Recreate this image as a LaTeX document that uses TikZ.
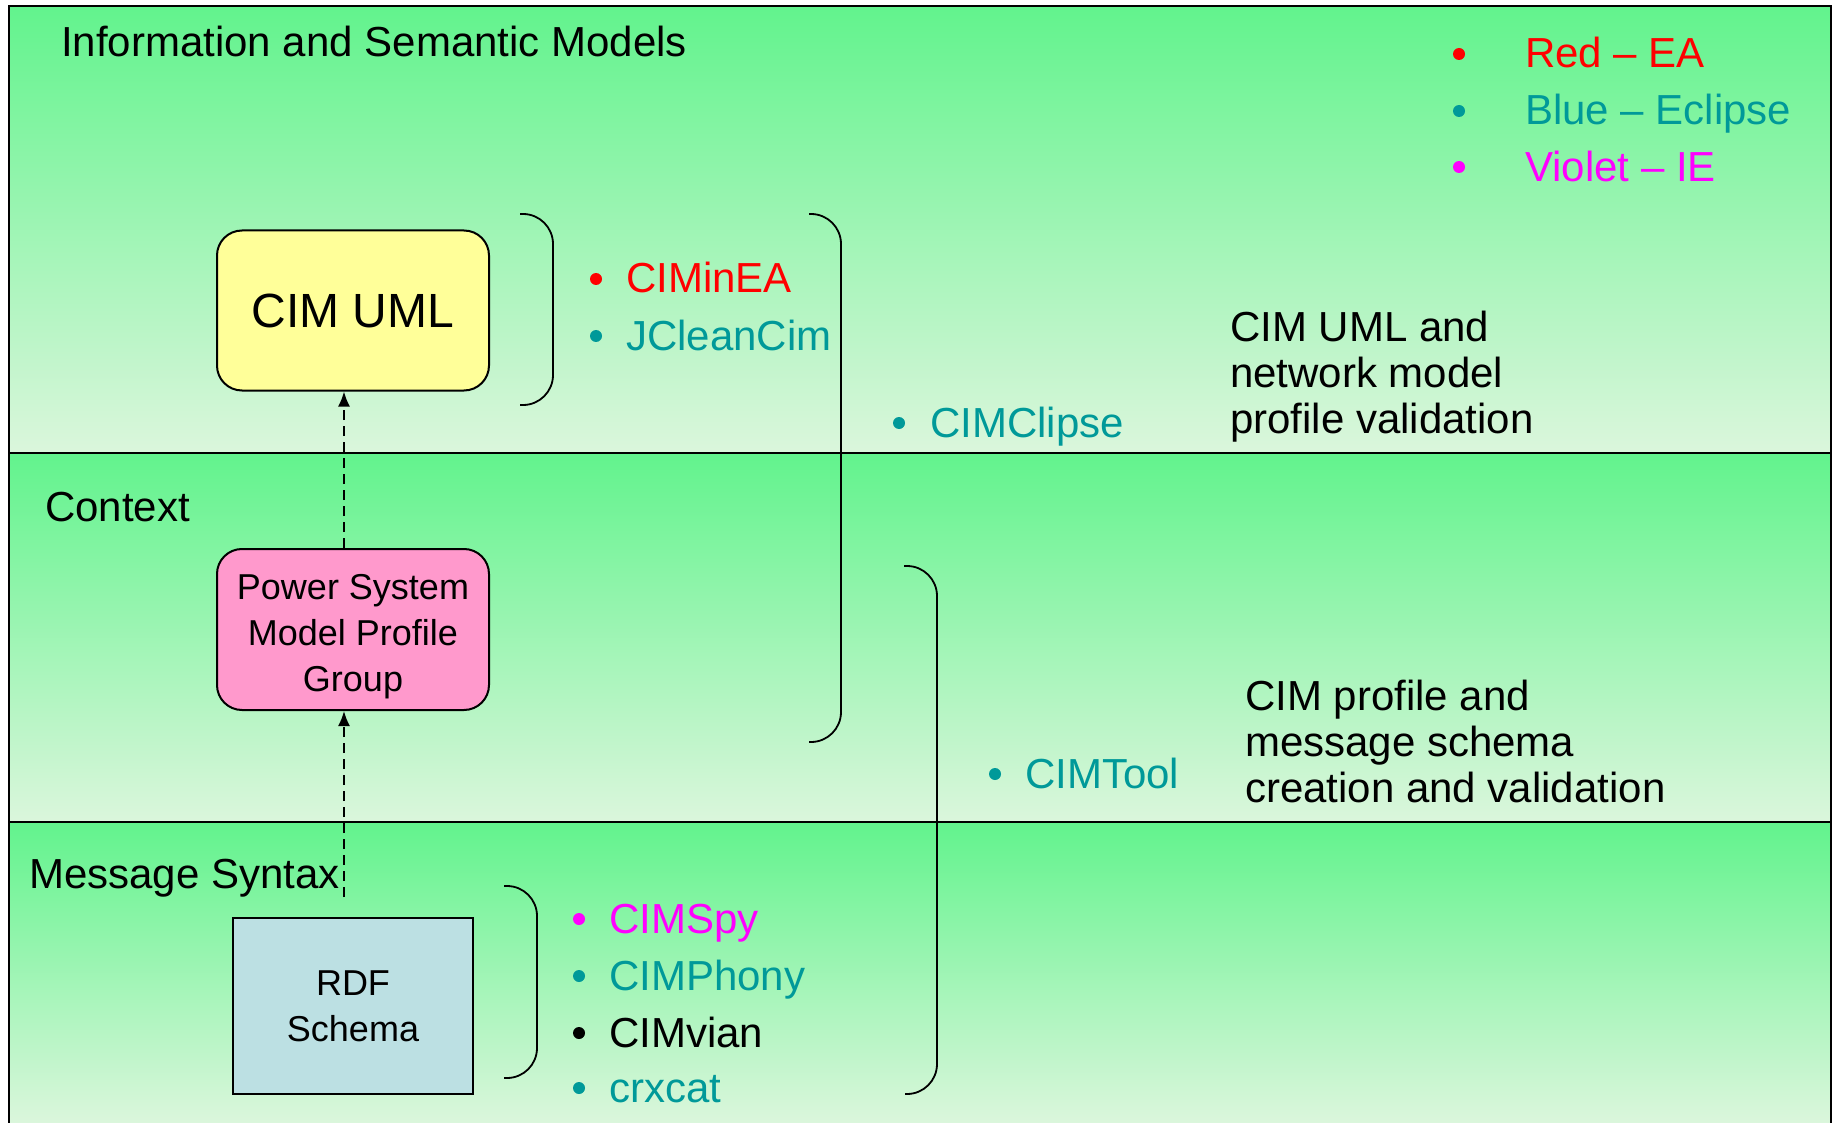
\documentclass[tikz,border=0pt]{standalone}
\usepackage{fontspec}
\setmainfont{Liberation Sans}
\usetikzlibrary{positioning,arrows.meta}
\definecolor{bandtop}{RGB}{98,243,141}
\definecolor{bandbot}{RGB}{219,246,220}
\definecolor{umlfill}{RGB}{255,255,153}
\definecolor{psmfill}{RGB}{255,153,204}
\definecolor{rdffill}{RGB}{188,224,227}
\definecolor{eclipse}{RGB}{0,153,153}
\definecolor{ie}{RGB}{255,0,255}
\begin{document}
\begin{tikzpicture}[x=1pt,y=-1pt,
    every node/.style={inner sep=0pt,font=\fontsize{42}{46}\selectfont},
    band/.style={top color=bandtop,bottom color=bandbot},
    frame/.style={line width=2.2pt},
    brace/.style={line width=1.8pt,rounded corners=30pt},
    item/.style={anchor=base west},
    note/.style={anchor=north west,align=left},
    modelbox/.style={draw,line width=2pt,minimum width=272pt,align=center,
      font=\fontsize{36}{46}\selectfont},
    dep/.style={line width=1.8pt,dash pattern=on 10pt off 6pt,
      -{Latex[length=15pt,width=12pt]}}]
  \useasboundingbox (0,0) rectangle (1837,1123);
  \shade[band] (9,6) rectangle (1831,453);
  \shade[band] (9,453) rectangle (1831,822);
  \shade[band] (9,822) rectangle (1831,1123);
  \draw[frame] (9,1123) -- (9,6) -- (1831,6) -- (1831,1123);
  \draw[frame] (9,453) -- (1831,453);
  \draw[frame] (9,822) -- (1831,822);

  \node[item] (ism) at (61,57) {Information and Semantic Models};
  \node[item] (ctx) at (45,521) {Context};
  \node[item] (msg) at (29,888) {Message Syntax};

  \node[modelbox,fill=umlfill,rounded corners=25pt,minimum height=160pt,
    font=\fontsize{48}{52}\selectfont] (uml) at (353,310.5) {CIM UML};
  \node[modelbox,fill=psmfill,rounded corners=25pt,minimum height=161pt]
    (psm) at (353,629.5) {\rule{0pt}{40pt}Power System\\Model Profile\\Group};
  \node[modelbox,fill=rdffill,minimum width=240pt,minimum height=176pt]
    (rdf) at (353,1006) {RDF\\Schema};

  \draw[dep] ([xshift=-9pt,yshift=20pt]rdf.north) -- ([xshift=-9pt]psm.south);
  \draw[dep] ([xshift=-9pt]psm.north) -- ([xshift=-9pt]uml.south);

  \draw[brace] (520,214) -- (553,214) -- (553,405) -- (520,405);
  \draw[brace] (809,214) -- (841,214) -- (841,742) -- (809,742);
  \draw[brace] (904,566) -- (937,566) -- (937,1094) -- (905,1094);
  \draw[brace] (504,886) -- (537,886) -- (537,1078) -- (504,1078);

  \fill[red] (1459,54) circle (6pt);
  \fill[eclipse] (1459,111) circle (6pt);
  \fill[ie] (1459,167) circle (6pt);
  \node[item,red] (lred) at (1525,68) {Red – EA};
  \node[item,eclipse] (lblue) at (1525,125) {Blue – Eclipse};
  \node[item,ie] (lviolet) at (1525,182) {Violet – IE};

  \fill[red] (596,279) circle (6pt);
  \fill[eclipse] (596,336) circle (6pt);
  \node[item,red] (cimin) at (626,293) {CIMinEA};
  \node[item,eclipse] (jclean) at (626,350) {JCleanCim};

  \fill[eclipse] (899,423) circle (6pt);
  \node[item,eclipse] (clipse) at (930,437) {CIMClipse};
  \node[note] (valid) at (1230,311) {CIM UML and\\network model\\profile validation};

  \fill[eclipse] (995,774) circle (6pt);
  \node[item,eclipse] (tool) at (1025,788) {CIMTool};
  \node[note] (schema) at (1245,680) {CIM profile and\\message schema\\creation and validation};

  \fill[ie] (579,919) circle (6pt);
  \fill[eclipse] (579,976) circle (6pt);
  \fill[black] (579,1033) circle (6pt);
  \fill[eclipse] (579,1088) circle (6pt);
  \node[item,ie] (spy) at (609,933) {CIMSpy};
  \node[item,eclipse] (phony) at (609,990) {CIMPhony};
  \node[item] (vian) at (609,1047) {CIMvian};
  \node[item,eclipse] (crx) at (609,1102) {crxcat};
\end{tikzpicture}
\end{document}
